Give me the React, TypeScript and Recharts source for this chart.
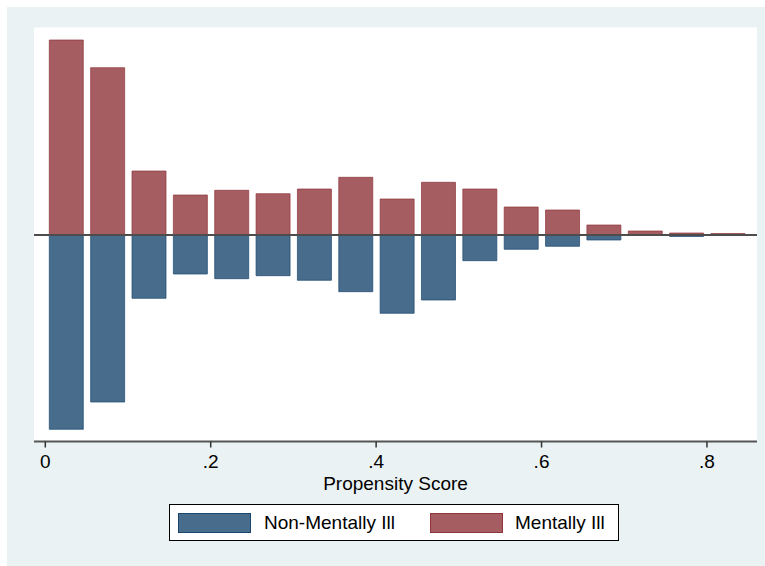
import React from "react";
import { BarChart, Bar, XAxis, YAxis, ReferenceLine, CartesianGrid, Legend } from "recharts";

const binCenters = [0.025, 0.075, 0.125, 0.175, 0.225, 0.275, 0.325, 0.375, 0.425, 0.475, 0.525, 0.575, 0.625, 0.675, 0.725, 0.775, 0.825];
const mentallyIll = [195, 167.3, 64, 40, 44.7, 41.3, 46, 57.7, 36, 52.7, 46, 28, 25, 10, 4, 2, 1.5];
const nonMentallyIll = [194.3, 167, 63.3, 39, 43.7, 40.7, 45.3, 56.7, 78.3, 65, 25.7, 14.3, 11.3, 5, 0, 1.5, 0];
const xTicks = [0, 0.2, 0.4, 0.6, 0.8];
const xTickLabels = ["0", ".2", ".4", ".6", ".8"];
const seriesNames = ["Non-Mentally Ill", "Mentally Ill"];

const data = binCenters.map((x, i) => ({
  x,
  mi: mentallyIll[i],
  nmi: -nonMentallyIll[i],
}));

const BLUE = "#486C8C";
const BLUE_EDGE = "#1A476F";
const RED = "#A65D62";
const RED_EDGE = "#90353B";
const FONT = "'Liberation Sans', Arial, Helvetica, sans-serif";

const LegendBox = () => (
  <div
    style={{
      width: 448,
      height: 35,
      border: "1px solid #000",
      background: "#fff",
      position: "relative",
      fontFamily: FONT,
      fontSize: 19,
      color: "#000",
    }}
  >
    <div style={{ position: "absolute", left: 8, top: 8, width: 73, height: 20, background: BLUE, boxSizing: "border-box", border: `1px solid ${BLUE_EDGE}` }} />
    <div style={{ position: "absolute", left: 94, top: 5, lineHeight: "25px", whiteSpace: "nowrap" }}>{seriesNames[0]}</div>
    <div style={{ position: "absolute", left: 260, top: 8, width: 73, height: 20, background: RED, boxSizing: "border-box", border: `1px solid ${RED_EDGE}` }} />
    <div style={{ position: "absolute", left: 345, top: 5, lineHeight: "25px", whiteSpace: "nowrap" }}>{seriesNames[1]}</div>
  </div>
);

export default function App() {
  return (
    <div style={{ position: "absolute", left: 0, top: 0, width: 765, height: 566, background: "#fff" }}>
      <div style={{ position: "absolute", left: 7, top: 7, width: 758, height: 559, background: "#EAF2F3" }} />
      <div style={{ position: "absolute", left: 0, top: 0 }}>
        <BarChart
          width={765}
          height={566}
          data={data}
          stackOffset="sign"
          margin={{ top: 27.5, right: 8, bottom: 64.5, left: 34 }}
        >
          <CartesianGrid horizontal={false} vertical={false} fill="#fff" stroke="none" />
          <XAxis
            dataKey="x"
            type="number"
            domain={[-0.01366, 0.8605]}
            allowDataOverflow
            ticks={xTicks}
            tickFormatter={(v: number) => xTickLabels[xTicks.indexOf(v)] ?? String(v)}
            height={60}
            tickSize={6}
            tickMargin={7}
            stroke="#555"
            axisLine={{ stroke: "#555", strokeWidth: 2 }}
            tickLine={{ stroke: "#333", strokeWidth: 1.5 }}
            tick={{ fill: "#000", fontSize: 19, fontFamily: FONT }}
            label={(props: any) => {
              const vb = props.viewBox || {};
              return (
                <text
                  x={vb.x + vb.width / 2}
                  y={vb.y + 48.5}
                  textAnchor="middle"
                  fill="#000"
                  fontSize={19}
                  fontFamily={FONT}
                >
                  Propensity Score
                </text>
              );
            }}
          />
          <YAxis
            type="number"
            domain={[-206.5, 207.5]}
            allowDataOverflow
            width={0}
            tick={false}
            tickLine={false}
            axisLine={{ stroke: "#000", strokeWidth: 2 }}
          />
          <Bar dataKey="nmi" name={seriesNames[0]} stackId="a" fill={BLUE} stroke={BLUE_EDGE} strokeWidth={1} strokeOpacity={0.7} barSize={34} isAnimationActive={false} />
          <Bar dataKey="mi" name={seriesNames[1]} stackId="a" fill={RED} stroke={RED_EDGE} strokeWidth={1} strokeOpacity={0.7} barSize={34} isAnimationActive={false} />
          <ReferenceLine y={0} stroke="#4D4D4D" strokeWidth={2} />
          <Legend
            layout="horizontal"
            verticalAlign="middle"
            align="center"
            wrapperStyle={{ left: 169, top: 504, width: 450, height: 37 }}
            content={() => <LegendBox />}
          />
        </BarChart>
      </div>
    </div>
  );
}
